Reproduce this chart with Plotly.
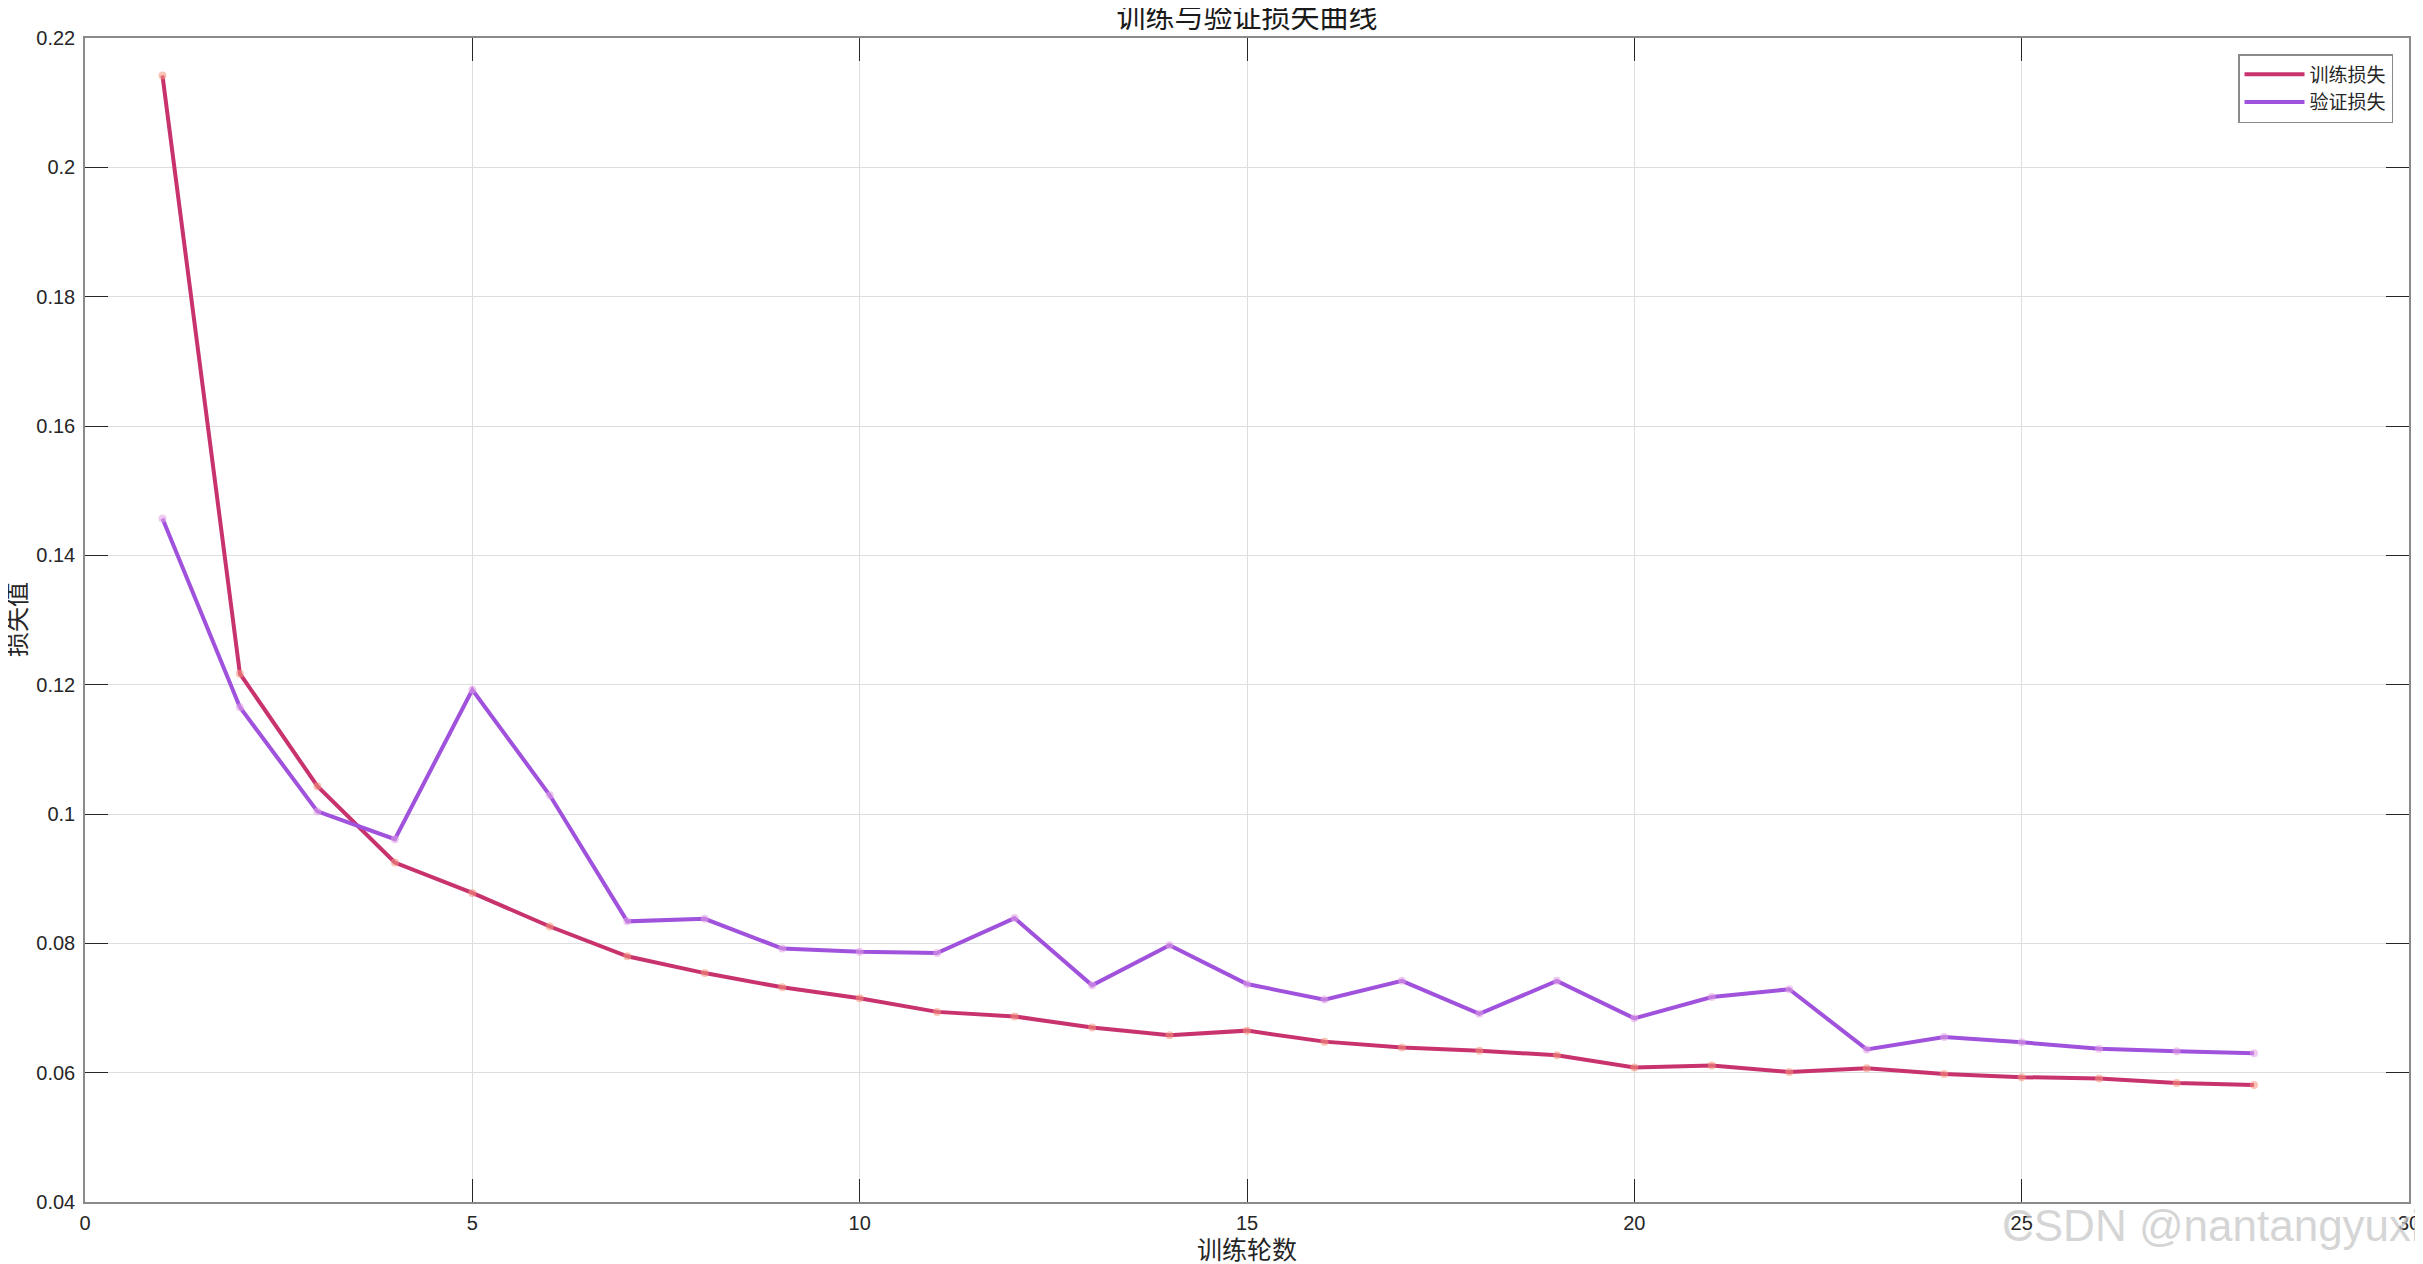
import plotly.graph_objects as go

epochs = list(range(1, 29))
train_loss = [0.2142, 0.1217, 0.1043, 0.0925, 0.0878, 0.0826, 0.0780, 0.0754, 0.0732, 0.0715,
              0.0694, 0.0687, 0.0670, 0.0658, 0.0665, 0.0648, 0.0639, 0.0634, 0.0627, 0.0608,
              0.0611, 0.0601, 0.0607, 0.0598, 0.0593, 0.0591, 0.0584, 0.0581]
val_loss = [0.1457, 0.1165, 0.1004, 0.0961, 0.1192, 0.1029, 0.0834, 0.0838, 0.0792, 0.0787,
            0.0785, 0.0839, 0.0735, 0.0797, 0.0737, 0.0713, 0.0742, 0.0691, 0.0742, 0.0684,
            0.0717, 0.0729, 0.0636, 0.0655, 0.0647, 0.0637, 0.0633, 0.0630]

y_ticks = [0.04, 0.06, 0.08, 0.10, 0.12, 0.14, 0.16, 0.18, 0.20, 0.22]
y_tick_text = ["0.04", "0.06", "0.08", "0.1", "0.12", "0.14", "0.16", "0.18", "0.2", "0.22"]
x_ticks = [0, 5, 10, 15, 20, 25, 30]

title_text = "训练与验证损失曲线"
x_title = "训练轮数"
y_title = "损失值"
names = ["训练损失", "验证损失"]
watermark = "CSDN @nantangyuxi"

CJK = "Noto Sans CJK SC"
NUM = "Liberation Sans, Arial, sans-serif"

# the page body adds an 8px margin, so the figure is sized/offset to compensate
W, H = 2415, 1256
ML, MR, MT, MB = 77, 14, 30, 62
PW, PH = W - ML - MR, H - MT - MB

fig = go.Figure()
fig.add_trace(go.Scatter(x=epochs, y=train_loss, mode="lines", name=names[0],
                         line=dict(color="#C8336E", width=4)))
fig.add_trace(go.Scatter(x=epochs, y=val_loss, mode="lines", name=names[1],
                         line=dict(color="#A052DC", width=4)))
fig.add_trace(go.Scatter(x=epochs, y=train_loss, mode="markers", showlegend=False,
                         marker=dict(color="rgba(245,150,125,0.55)", size=8, line=dict(width=0))))
fig.add_trace(go.Scatter(x=epochs, y=val_loss, mode="markers", showlegend=False,
                         marker=dict(color="rgba(225,160,230,0.55)", size=8, line=dict(width=0))))

axis_common = dict(
    showline=True, linecolor="#8a8a8a", linewidth=1.5, mirror="allticks",
    ticks="inside", ticklen=23, tickcolor="#262626", tickwidth=1,
    showgrid=True, gridcolor="#dedede", gridwidth=1, zeroline=False,
    tickfont=dict(family=NUM, size=20, color="#262626"),
    automargin=False,
)

fig.update_xaxes(range=[0, 30], tickvals=x_ticks, ticktext=[str(v) for v in x_ticks],
                 ticklabelstandoff=2, **axis_common)
fig.update_yaxes(range=[0.04, 0.22], tickvals=y_ticks, ticktext=y_tick_text,
                 ticklabelstandoff=4, **axis_common)

fig.update_layout(
    width=W, height=H,
    margin=dict(l=ML, r=MR, t=MT, b=MB),
    paper_bgcolor="white", plot_bgcolor="white",
    title=dict(text=title_text, x=0.5, xanchor="center", xref="paper",
               y=1 - 10 / H, yref="container", yanchor="middle",
               font=dict(family=CJK, size=29, color="#1a1a1a")),
    legend=dict(x=1 - 16 / PW, y=1 - 16 / PH, xanchor="right", yanchor="top",
                bgcolor="white", bordercolor="#8a8a8a", borderwidth=1.5,
                font=dict(family=CJK, size=19, color="#262626"),
                tracegroupgap=0, itemwidth=60),
    showlegend=True,
)

fig.add_annotation(text=x_title, xref="paper", yref="paper", x=0.5, y=-46 / PH,
                   xanchor="center", yanchor="middle", showarrow=False,
                   font=dict(family=CJK, size=25, color="#262626"))
fig.add_annotation(text=y_title, xref="paper", yref="paper", x=-70 / PW, y=0.5,
                   xanchor="center", yanchor="middle", showarrow=False, textangle=-90,
                   font=dict(family=CJK, size=25, color="#262626"))

fig.add_annotation(text=watermark, xref="paper", yref="paper", x=1 + 14 / PW, y=-23 / PH,
                   xanchor="right", yanchor="middle", showarrow=False,
                   font=dict(family=NUM, size=44, color="rgba(200,200,200,0.75)"))

fig.write_html("out.html")
